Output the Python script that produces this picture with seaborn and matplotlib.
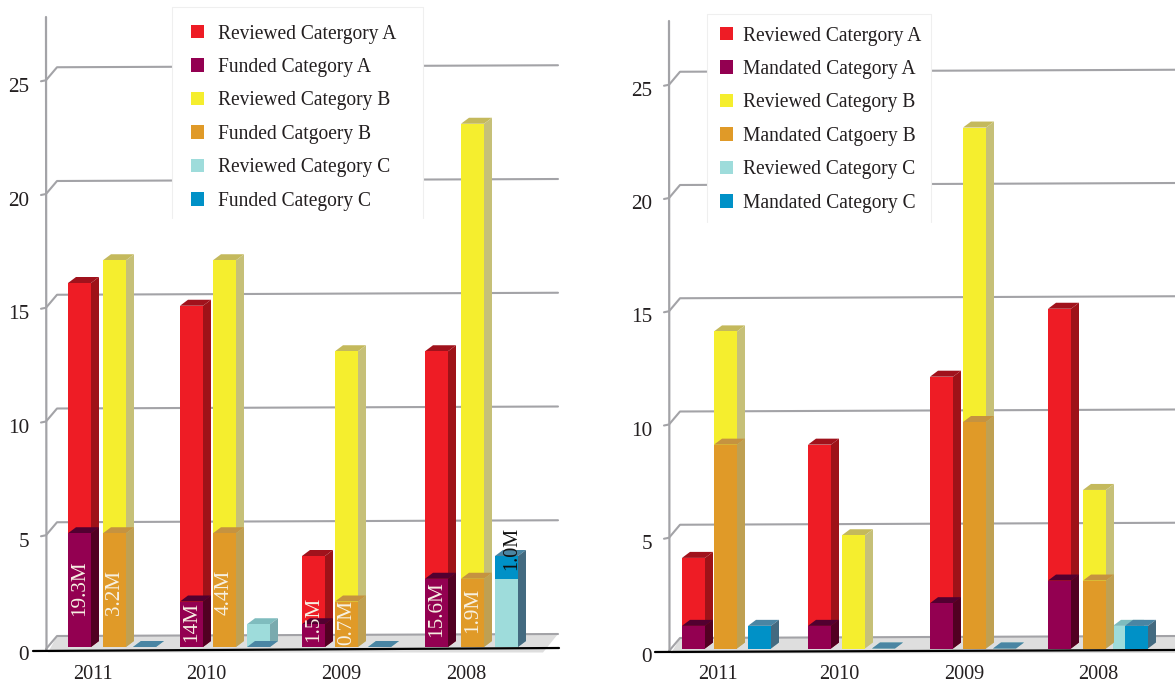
import numpy as np
import matplotlib
matplotlib.use("Agg")
import matplotlib.pyplot as plt
from matplotlib.patches import Patch, Polygon, Rectangle
from matplotlib.transforms import ScaledTranslation
import seaborn as sns

# Values per year, 2011 to 2008
years = ["2011", "2010", "2009", "2008"]

left_reviewed_a = [16, 15, 4, 13]
left_funded_a = [5, 2, 1, 3]
left_reviewed_b = [17, 17, 13, 23]
left_funded_b = [5, 5, 2, 3]
left_reviewed_c = [0, 1, 0, 3]
left_funded_c = [0, 0, 0, 4]

right_reviewed_a = [4, 9, 12, 15]
right_mandated_a = [1, 1, 2, 3]
right_reviewed_b = [14, 5, 23, 7]
right_mandated_b = [9, np.nan, 10, 3]
right_reviewed_c = [0, 0, 0, 1]
right_mandated_c = [1, 0, 0, 1]

left_labels = ["Reviewed Catergory A", "Funded Category A", "Reviewed Category B",
               "Funded Catgoery B", "Reviewed Category C", "Funded Category C"]
right_labels = ["Reviewed Catergory A", "Mandated Category A", "Reviewed Category B",
                "Mandated Catgoery B", "Reviewed Category C", "Mandated Category C"]

# Per-bar money annotations on the left panel
funded_a_notes = ["19.3M", "14M", "1.5M", "15.6M"]
funded_b_notes = ["3.2M", "4.4M", "0.7M", "1.9M"]
funded_c_note = "1.0M"

# Colours: front, side, top
RED = ("#ee1c25", "#9e1218", "#a0121c")
PURPLE = ("#930051", "#520022", "#520030")
YELLOW = ("#f5ee2e", "#c6c078", "#c4b95c")
ORANGE = ("#e09a28", "#bfa052", "#c59340")
CYAN = ("#9edcdb", "#7aaaae", "#7fbcbe")
BLUE = ("#0091c7", "#436a80", "#4a85a3")
GRID = "#a3a3a7"
FLOOR = "#dedede"
INK = "#231f20"

W, H = 1175, 686
BAR_W = 23
DX, DY_PX = 8, 6

sns.set_theme(style="white")
plt.rcParams["font.family"] = ["Liberation Serif", "DejaVu Serif"]

fig = plt.figure(figsize=(W / 100, H / 100), dpi=100, facecolor="white")


def make_axes(x0, x1, bottom, base, ppu):
    ax = fig.add_axes([x0 / W, (H - bottom) / H, (x1 - x0) / W, bottom / H])
    ax.set_xlim(x0, x1)
    ax.set_ylim((base - bottom) / ppu, base / ppu)
    ax.patch.set_alpha(0)
    return ax


def draw_series(ax, positions, values, colors, ppu, front_z, depth_z):
    """Draw one series as bars, then extrude each bar into a small box."""
    width = BAR_W / np.diff(sorted(positions)).min()
    sns.barplot(x=positions, y=values, native_scale=True, width=width,
                color=colors[0], saturation=1, errorbar=None, ax=ax, legend=False)
    rects = list(ax.containers[-1])
    dy = DY_PX / ppu
    for i, rect in enumerate(rects):
        x0, x1, h = rect.get_x(), rect.get_x() + rect.get_width(), rect.get_height()
        if np.isnan(h):
            continue
        rect.set_zorder(front_z[i] if np.ndim(front_z) else front_z)
        rect.set_linewidth(0)
        ax.add_patch(Polygon([(x0, h), (x1, h), (x1 + DX, h + dy), (x0 + DX, h + dy)],
                             closed=True, fc=colors[2], ec="none", zorder=depth_z))
        if h > 0:
            ax.add_patch(Polygon([(x1, 0), (x1 + DX, dy), (x1 + DX, h + dy), (x1, h)],
                                 closed=True, fc=colors[1], ec="none", zorder=depth_z))
    return rects


def dress_panel(ax, base, ppu, wall_x, axis_top, tick_nub, wall_end, grid_y0, grid_y1,
                front_y0, floor, black, tick_x, ticks_labels, drop_px, box, swatch_xy,
                legend_labels, text_pad):
    val = lambda py: (base - py) / ppu
    # floor, back wall rules and the value axis
    ax.add_patch(Polygon([(x, val(y)) for x, y in floor], closed=True, fc=FLOOR, ec="none",
                         zorder=0.5, clip_on=False))
    for v in [0, 5, 10, 15, 20, 25]:
        xs = [wall_x + 11, wall_end]
        ys = [val(grid_y0 - ppu * v), val(grid_y1 - ppu * v)]
        if v:
            xs = [tick_nub, wall_x] + xs
            fy = front_y0 - ppu * v
            ys = [val(fy), val(fy - 1)] + ys
        else:
            xs = [wall_x] + xs
            ys = [val(front_y0 - 1)] + ys
        ax.plot(xs, ys, color=GRID, lw=1.5, zorder=1, solid_joinstyle="round", clip_on=False)
    ax.plot([wall_x, wall_x + 0.5], [val(axis_top), val(front_y0)], color=GRID, lw=1.6, zorder=1)
    ax.plot([black[0][0], black[1][0]], [val(black[0][1]), val(black[1][1])], color="black",
            lw=1.6, zorder=1.5, clip_on=False)

    # tick labels
    for side in ax.spines.values():
        side.set_visible(False)
    ax.set_xticks(tick_x, ticks_labels, fontsize=14.6, color=INK)
    ax.set_yticks([0, 5, 10, 15, 20, 25], [0, 5, 10, 15, 20, 25], fontsize=15.2, color=INK)
    ax.tick_params(axis="both", length=0, pad=2)
    ax.set_xlabel("")
    ax.set_ylabel("")
    drop = ScaledTranslation(0, -drop_px / 100, fig.dpi_scale_trans)
    for lab in ax.get_yticklabels():
        lab.set_transform(lab.get_transform() + drop)

    # white legend panel with a faint outline open at the bottom
    bx0, by0, bx1, by1 = box
    ax.add_patch(Rectangle((bx0, val(by1)), bx1 - bx0, (by1 - by0) / ppu, fc="white", ec="none",
                           zorder=18, clip_on=False))
    ax.plot([bx0, bx0, bx1, bx1], [val(by1), val(by0), val(by0), val(by1)], color="#efefef",
            lw=0.8, zorder=19, clip_on=False)

    handles = [Patch(fc=c[0], ec="none", label=t)
               for c, t in zip((RED, PURPLE, YELLOW, ORANGE, CYAN, BLUE), legend_labels)]
    leg = ax.legend(handles=handles, loc="upper left",
                    bbox_to_anchor=(swatch_xy[0] / W, 1 - swatch_xy[1] / H),
                    bbox_transform=fig.transFigure, frameon=False, fontsize=14.05,
                    borderaxespad=0, borderpad=0, handlelength=0.68, handleheight=0.68,
                    handletextpad=text_pad, labelspacing=0.74, labelcolor=INK)
    leg.set_zorder(20)


# ---- left panel ----
L_BASE, L_PPU = 647.0, 22.75
ax_l = make_axes(32, 590, 662, L_BASE, L_PPU)
la = [79.5, 191.5, 313.5, 436.5]
lb = [114.5, 224.5, 346.5, 472.5]
lc = [144.5, 258.5, 379.5, 506.5]

draw_series(ax_l, la, left_reviewed_a, RED, L_PPU, 3, 2)
fa = draw_series(ax_l, la, left_funded_a, PURPLE, L_PPU, 5, 4)
draw_series(ax_l, lb, left_reviewed_b, YELLOW, L_PPU, 3, 2)
fb = draw_series(ax_l, lb, left_funded_b, ORANGE, L_PPU, 5, 4)
draw_series(ax_l, lc, left_reviewed_c, CYAN, L_PPU, 3, 2)
fc = draw_series(ax_l, lc, left_funded_c, BLUE, L_PPU, [5, 5, 5, 2.5], 4)

dress_panel(ax_l, L_BASE, L_PPU, 46, 17, 41, 558, 636, 634, 650,
            [(48, 652.5), (57, 636), (558, 634), (543, 652.5)],
            ((33, 651), (559, 648)), [93, 206, 341, 466], years, 6.5,
            (172, 7, 423, 218), (191, 24.5), left_labels, 0.72)

# Money notes stand upright inside their bars
note_lift_a = [1.35, 0.2, 0.22, 0.45]
note_lift_b = [1.4, 1.4, 0.08, 0.6]
for rects, notes, lifts in ((fa, funded_a_notes, note_lift_a), (fb, funded_b_notes, note_lift_b)):
    for rect, note, lift in zip(rects, notes, lifts):
        ax_l.text(rect.get_x() + rect.get_width() / 2, lift, note, rotation=90, ha="center",
                  va="bottom", color="#f7f1e3", fontsize=15.2, zorder=8)
ax_l.text(fc[3].get_x() + fc[3].get_width() / 2 + 5, 3.37, funded_c_note, rotation=90,
          ha="center", va="bottom", color="#111111", fontsize=14.6, zorder=8)

# ---- right panel ----
R_BASE, R_PPU = 648.5, 22.65
ax_r = make_axes(655, 1175, 662, R_BASE, R_PPU)
ra = [693.5, 819.5, 941.5, 1059.5]
rb = [725.5, 853.5, 974.5, 1094.5]
rc_rev = [759.5, 883.5, 1004.5, 1124.5]
rc_man = [759.5, 883.5, 1004.5, 1136.5]

draw_series(ax_r, ra, right_reviewed_a, RED, R_PPU, 3, 2)
draw_series(ax_r, ra, right_mandated_a, PURPLE, R_PPU, 5, 4)
draw_series(ax_r, rb, right_reviewed_b, YELLOW, R_PPU, 3, 2)
draw_series(ax_r, rb, right_mandated_b, ORANGE, R_PPU, 5, 4)
draw_series(ax_r, rc_rev, right_reviewed_c, CYAN, R_PPU, 3, 2)
draw_series(ax_r, rc_man, right_mandated_c, BLUE, R_PPU, 5, 4)

dress_panel(ax_r, R_BASE, R_PPU, 669, 21, 664, 1175, 638, 636, 652,
            [(671, 653.5), (680, 638), (1175, 636), (1175, 653)],
            ((655, 652), (1175, 650)), [718, 839, 964, 1098], years, 6.5,
            (707, 14, 931, 222), (720, 26.5), right_labels, 0.5)

fig.savefig("out.png", dpi=100, facecolor="white")
